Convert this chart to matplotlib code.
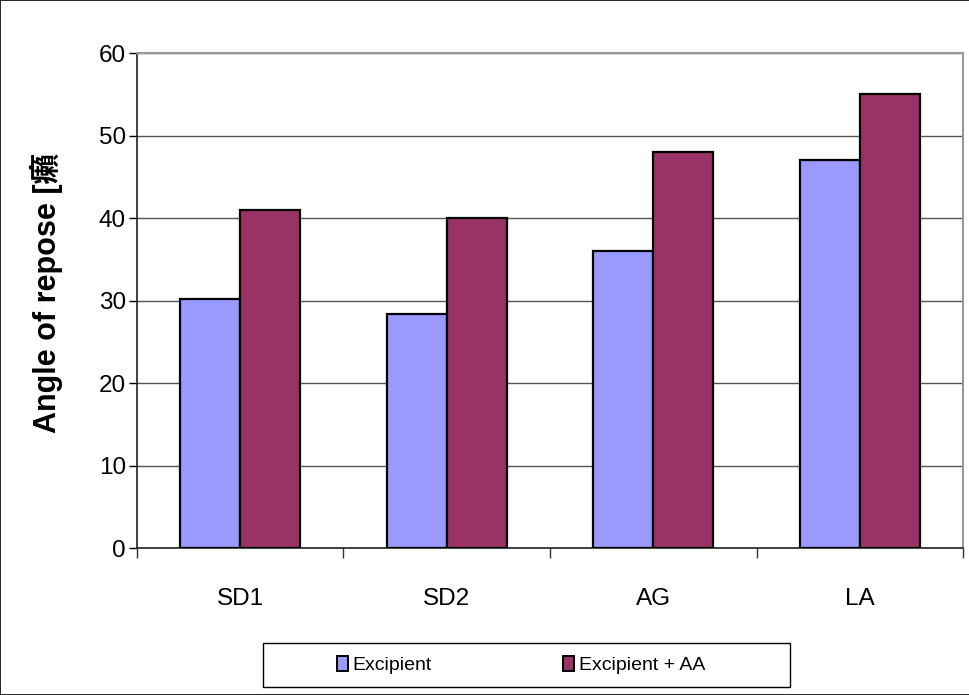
import numpy as np
import matplotlib
matplotlib.use('Agg')
import matplotlib.pyplot as plt
from matplotlib.patches import Rectangle

categories = ['SD1', 'SD2', 'AG', 'LA']
excipient = [30.2, 28.4, 36.0, 47.0]
excipient_aa = [41.0, 40.0, 48.0, 55.0]
series_names = ['Excipient', 'Excipient + AA']
y_ticks = [0, 10, 20, 30, 40, 50, 60]
y_label = 'Angle of repose [' + '\u7669'

plt.rcParams['font.family'] = ['Liberation Sans', 'Noto Sans CJK SC', 'DejaVu Sans']

fig = plt.figure(figsize=(9.7, 6.95), dpi=100)
ax = fig.add_axes([0.1412, 0.2115, 0.8516, 0.7122])

x = np.arange(len(categories))
w = 0.29
ax.bar(x - w/2, excipient, w, color='#9999FF', edgecolor='black', linewidth=1.6,
       label=series_names[0], zorder=3)
ax.bar(x + w/2, excipient_aa, w, color='#993366', edgecolor='black', linewidth=1.6,
       label=series_names[1], zorder=3)

ax.set_xlim(-0.5, len(categories) - 0.5)
ax.set_ylim(0, 60)
ax.set_yticks(y_ticks)
ax.set_yticklabels([str(t) for t in y_ticks], fontsize=17.5)
ax.yaxis.grid(True, color='#555555', linewidth=1)
ax.set_axisbelow(True)

# category labels, ticks sit on the category boundaries
ax.set_xticks(x)
ax.set_xticklabels(categories, fontsize=17.5)
ax.tick_params(axis='x', length=0, pad=29)
ax.set_xticks(np.arange(-0.5, len(categories)), minor=True)
ax.tick_params(axis='x', which='minor', length=7, width=1, color='#333333')
ax.tick_params(axis='y', length=6, width=1, pad=2)

for s in ['top', 'right']:
    ax.spines[s].set_color('#999999')
    ax.spines[s].set_linewidth(1.5)
for s in ['left', 'bottom']:
    ax.spines[s].set_color('#222222')
    ax.spines[s].set_linewidth(1.2)

ax.set_ylabel(y_label, fontsize=22, fontweight='bold')
ax.yaxis.set_label_coords(-0.09, 0.515)

leg = fig.legend(loc='center left', bbox_to_anchor=(337/970, 0.0432),
                 ncol=2, frameon=False, fontsize=14,
                 handlelength=0.55, handleheight=0.85, handletextpad=0.25,
                 columnspacing=6.75, borderpad=0, borderaxespad=0)
for h in leg.legend_handles:
    h.set_linewidth(1.4)

# legend box
fig.add_artist(Rectangle((263/970, 1 - 687/695), (790-263)/970, 44/695,
                         transform=fig.transFigure, fill=False,
                         edgecolor='black', linewidth=1))

# outer border
fig.add_artist(Rectangle((0.0005, 0.0005), 0.999, 0.999, transform=fig.transFigure,
                         fill=False, edgecolor='black', linewidth=1.2))

fig.savefig('out.png', dpi=100)
